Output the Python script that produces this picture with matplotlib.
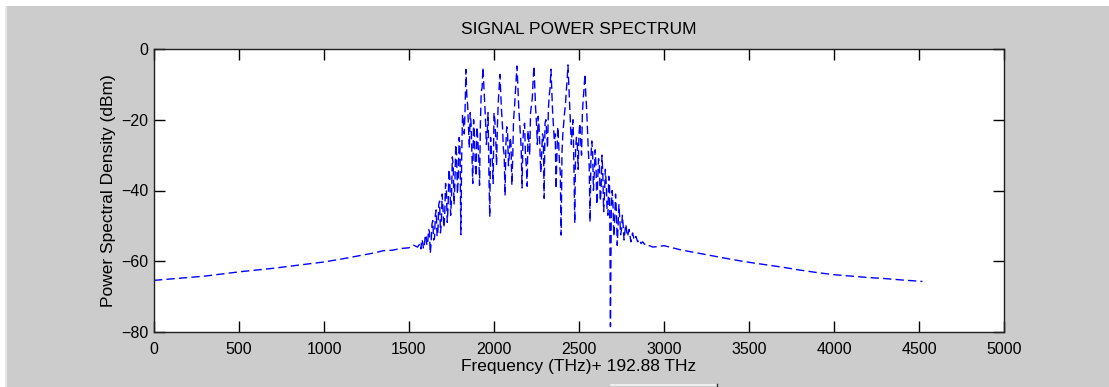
import numpy as np
import matplotlib
matplotlib.use("Agg")
import matplotlib.pyplot as plt
from matplotlib.patches import Rectangle
from matplotlib.lines import Line2D

plt.rcParams['font.family'] = ['Liberation Sans', 'DejaVu Sans']

# Left wing of the spectrum (frequency offset, dBm)
left_freq = [0, 100, 200, 300, 400, 500, 600, 700, 800, 900, 1000, 1100,
             1200, 1300, 1350, 1400, 1450, 1500, 1525, 1550]
left_psd = [-65.4, -65.0, -64.6, -64.2, -63.6, -63.0, -62.5, -62.0, -61.4,
            -60.8, -60.2, -59.4, -58.5, -57.6, -57.0, -56.9, -56.4, -56.2,
            -55.4, -56.0]

# Occupied band (channels), samples at ...5
core_freq = [1565, 1575, 1585, 1595, 1605, 1615, 1625, 1635, 1645, 1655,
             1665, 1675, 1685, 1695, 1705, 1715, 1725, 1735, 1745, 1755,
             1765, 1775, 1785, 1795, 1805, 1815, 1825, 1835, 1845, 1855,
             1865, 1875, 1885, 1895, 1905, 1915, 1925, 1935, 1945, 1955,
             1965, 1975, 1985, 1995, 2005, 2015, 2025, 2035, 2045, 2055,
             2065, 2075, 2085, 2095, 2105, 2115, 2125, 2135, 2145, 2155,
             2165, 2175, 2185, 2195, 2205, 2215, 2225, 2235, 2245, 2255,
             2265, 2275, 2285, 2295, 2305, 2315, 2325, 2335, 2345, 2355,
             2365, 2375, 2385, 2395, 2405, 2415, 2425, 2435, 2445, 2455,
             2465, 2475, 2485, 2495, 2505, 2515, 2525, 2535, 2545, 2555,
             2565, 2575, 2585, 2595, 2605, 2615, 2625, 2635, 2645, 2655,
             2665, 2675, 2685, 2695, 2705, 2715, 2725, 2735, 2745, 2755,
             2765, 2775, 2785, 2795, 2805, 2815, 2825, 2835, 2845, 2855,
             2865, 2875, 2885, 2895, 2905, 2915, 2925, 2935]
core_psd = [-55.0, -53.8, -56.5, -53.0, -55.5, -51.0, -57.8, -49.5, -54.0, -47.0,
            -53.0, -44.0, -52.0, -41.0, -50.5, -38.0, -49.0, -34.0, -47.0, -30.5,
            -44.0, -27.0, -41.0, -25.0, -52.5, -18.5, -24.0, -5.8, -16.0, -28.0,
            -21.0, -38.0, -24.0, -36.0, -26.0, -38.5, -12.0, -5.2, -15.0, -27.0,
            -18.0, -47.5, -30.0, -38.0, -20.0, -33.0, -15.0, -7.2, -18.0, -28.0,
            -41.5, -22.0, -33.0, -25.0, -38.5, -20.0, -13.0, -4.8, -16.0, -24.0,
            -39.3, -22.0, -30.0, -38.8, -26.0, -18.0, -14.0, -4.8, -17.0, -27.0,
            -22.0, -35.0, -24.0, -42.2, -20.0, -28.0, -13.0, -5.7, -18.0, -26.0,
            -39.5, -22.0, -32.0, -52.6, -24.0, -18.0, -12.0, -4.5, -16.0, -27.0,
            -20.0, -49.3, -25.0, -34.0, -21.0, -30.0, -14.0, -7.1, -17.0, -29.0,
            -48.9, -26.0, -40.0, -28.5, -44.0, -31.0, -43.0, -30.0, -46.0, -34.0,
            -45.0, -36.0, -78.5, -40.0, -53.0, -41.0, -55.5, -44.0, -52.5, -47.0,
            -54.0, -49.5, -53.0, -51.0, -54.5, -52.0, -54.0, -53.0, -54.5, -53.8,
            -55.0, -54.5, -55.2, -55.0, -55.5, -55.6, -55.8, -56.0]

# In-between samples (at ...0) inside the occupied band
mid_freq = [1570, 1580, 1590, 1600, 1610, 1620, 1630, 1640, 1650, 1660,
            1670, 1680, 1690, 1700, 1710, 1720, 1730, 1740, 1750, 1760,
            1770, 1780, 1790, 1800, 1810, 1820, 1830, 1840, 1850, 1860,
            1870, 1880, 1890, 1900, 1910, 1920, 1930, 1940, 1950, 1960,
            1970, 1980, 1990, 2000, 2010, 2020, 2030, 2040, 2050, 2060,
            2070, 2080, 2090, 2100, 2110, 2120, 2130, 2140, 2150, 2160,
            2170, 2180, 2190, 2200, 2210, 2220, 2230, 2240, 2250, 2260,
            2270, 2280, 2290, 2300, 2310, 2320, 2330, 2340, 2350, 2360,
            2370, 2380, 2390, 2400, 2410, 2420, 2430, 2440, 2450, 2460,
            2470, 2480, 2490, 2500, 2510, 2520, 2530, 2540, 2550, 2560,
            2570, 2580, 2590, 2600, 2610, 2620, 2630, 2640, 2650, 2660,
            2670, 2680, 2690, 2700, 2710, 2720, 2730, 2740, 2750, 2760]
mid_psd = [-56.5, -54.5, -55.8, -52.5, -54.8, -51.5, -55.0, -48.5, -53.5, -45.5,
           -51.5, -43.0, -49.5, -45.0, -47.0, -40.0, -44.5, -36.5, -42.0, -33.0,
           -38.0, -30.0, -36.0, -28.0, -30.0, -21.0, -17.0, -13.0, -22.0, -18.0,
           -30.0, -20.0, -33.0, -22.0, -30.0, -21.0, -11.0, -10.0, -20.0, -24.0,
           -35.0, -25.0, -31.0, -18.0, -25.0, -22.0, -11.0, -13.0, -22.0, -30.0,
           -27.0, -24.0, -30.0, -27.0, -31.0, -17.0, -9.0, -10.0, -20.0, -28.0,
           -26.0, -21.0, -33.0, -23.0, -30.0, -16.0, -9.0, -11.0, -21.0, -19.0,
           -28.0, -30.0, -25.0, -21.0, -24.0, -17.0, -11.0, -12.0, -22.0, -24.0,
           -30.0, -26.0, -35.0, -29.0, -21.0, -16.0, -9.0, -10.0, -21.0, -23.0,
           -33.0, -28.0, -27.0, -24.0, -26.0, -18.0, -11.0, -13.0, -23.0, -33.0,
           -31.0, -29.0, -35.0, -33.0, -37.0, -33.0, -40.0, -35.0, -41.0, -38.0,
           -47.0, -39.0, -45.0, -44.0, -48.0, -46.0, -50.0, -48.0, -51.0, -50.0]

# Right wing
right_freq = [3000, 3100, 3200, 3300, 3400, 3500, 3600, 3700, 3800, 3900,
              4000, 4100, 4200, 4300, 4400, 4520]
right_psd = [-55.6, -56.8, -57.7, -58.6, -59.5, -60.3, -61.0, -61.7, -62.5,
             -63.2, -63.8, -64.2, -64.6, -64.9, -65.3, -65.7]

pts = sorted(zip(left_freq + core_freq + mid_freq + right_freq,
                 left_psd + core_psd + mid_psd + right_psd))
freq = [p[0] for p in pts]
psd = [p[1] for p in pts]

W, H = 1109, 387
fig = plt.figure(figsize=(W / 100, H / 100), dpi=100, facecolor='#cccccc')

# window frame bits
fig.add_artist(Rectangle((0, (H - 6) / H), 1, 6 / H, transform=fig.transFigure,
                         facecolor='white', edgecolor='none'))
fig.add_artist(Rectangle((0, 0), 5 / W, 1, transform=fig.transFigure,
                         facecolor='white', edgecolor='none'))
fig.add_artist(Rectangle((5 / W, 0), 2 / W, (H - 6) / H, transform=fig.transFigure,
                         facecolor='#e4e4e4', edgecolor='none'))
fig.add_artist(Line2D([611 / W, 716 / W], [(H - 384.5) / H] * 2,
                      transform=fig.transFigure, color='#f4f4f4', lw=1.2))
fig.add_artist(Line2D([716.5 / W] * 2, [0, (H - 383.5) / H],
                      transform=fig.transFigure, color='#303030', lw=1))

ax = fig.add_axes([154 / W, (H - 332) / H, 850 / W, 283 / H])
ax.set_facecolor('white')
ax.plot(freq, psd, color='#0000ff', linewidth=1.0, linestyle=(0, (6, 3)))

ax.set_xlim(0, 5000)
ax.set_ylim(-80, 0)
ax.set_xticks(np.arange(0, 5001, 500))
ax.set_yticks(np.arange(-80, 1, 20))
ax.tick_params(direction='in', length=8, width=1, top=True, right=True,
               labelsize=11.5, colors='black')
ax.tick_params(axis='x', pad=7)
ax.tick_params(axis='y', pad=4)
for s in ax.spines.values():
    s.set_linewidth(1.0)
    s.set_color('#202020')

ax.set_title('SIGNAL POWER SPECTRUM', fontsize=12.5, pad=11)
ax.set_xlabel('Frequency (THz)+ 192.88 THz', fontsize=12.5, labelpad=2)
ax.set_ylabel('Power Spectral Density (dBm)', fontsize=12.5, labelpad=4)

fig.savefig('out.png', dpi=100, facecolor=fig.get_facecolor())
